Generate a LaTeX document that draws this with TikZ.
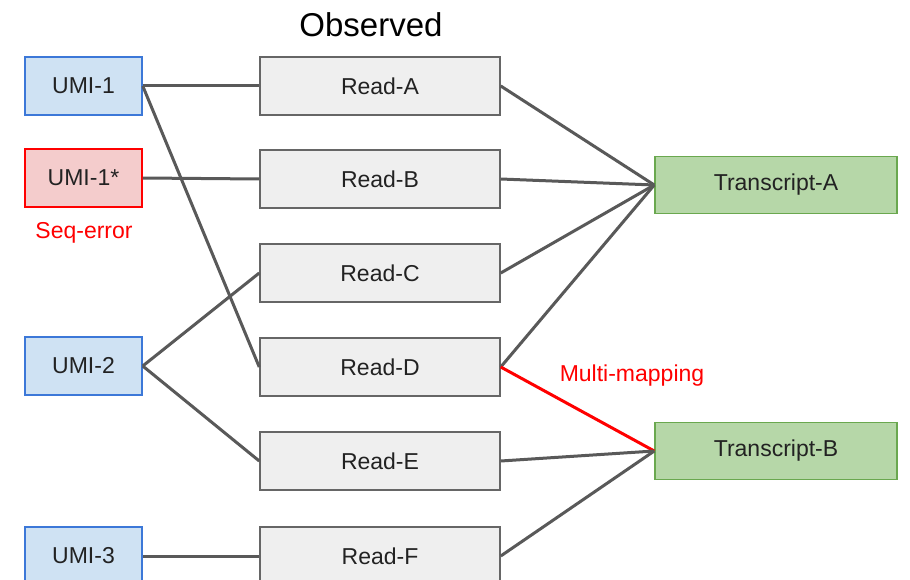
\documentclass[tikz,border=0pt]{standalone}
\usepackage{fontspec}
\setmainfont{Liberation Sans}
\definecolor{umifill}{HTML}{CFE2F3}
\definecolor{umiedge}{HTML}{3C78D8}
\definecolor{errfill}{HTML}{F4CCCC}
\definecolor{erredge}{HTML}{FF0000}
\definecolor{readfill}{HTML}{EFEFEF}
\definecolor{readedge}{HTML}{666666}
\definecolor{txfill}{HTML}{B6D7A8}
\definecolor{txedge}{HTML}{6AA84F}
\definecolor{wire}{HTML}{595959}
\definecolor{ink}{HTML}{222222}
\tikzset{
  box/.style={draw, line width=1.5pt, rectangle, inner sep=0pt, text=ink,
    font=\fontsize{23}{27}\selectfont},
  umibox/.style={box, fill=umifill, draw=umiedge, minimum width=117pt, minimum height=58pt},
  errbox/.style={box, fill=errfill, draw=erredge, minimum width=117pt, minimum height=58pt},
  readbox/.style={box, fill=readfill, draw=readedge, minimum width=240pt, minimum height=58pt},
  txbox/.style={box, fill=txfill, draw=txedge, minimum width=242pt, minimum height=57pt},
  wireline/.style={draw=wire, line width=3pt},
  mmline/.style={draw=red, line width=3pt},
  redlabel/.style={text=red, font=\fontsize{23}{27}\selectfont, inner sep=0pt},
}
\begin{document}
\begin{tikzpicture}[x=1pt, y=-1pt]
\useasboundingbox (0,0) rectangle (910,580);
\clip (0,0) rectangle (910,580);
\fill[white] (0,0) rectangle (910,580);

% title
\node[text=black, font=\fontsize{33}{38}\selectfont, inner sep=0pt] (title) at (371,25) {Observed};

% UMI column
\node[umibox] (u1) at (83.5,86) {UMI-1};
\node[errbox] (u1s) at (83.5,178) {UMI-1*};
\node[redlabel] (seq) at (84,233) {Seq-error};
\node[umibox] (u2) at (83.5,366) {UMI-2};
\node[umibox] (u3) at (83.5,556) {UMI-3};

% read column
\node[readbox] (ra) at (380,86) {Read-A};
\node[readbox] (rb) at (380,179) {Read-B};
\node[readbox] (rc) at (380,273) {Read-C};
\node[readbox] (rd) at (380,367) {Read-D};
\node[readbox] (re) at (380,461) {Read-E};
\node[readbox] (rf) at (380,556) {Read-F};

% transcripts
\node[txbox] (ta) at (776,185) {Transcript-A};
\node[txbox] (tb) at (776,451) {Transcript-B};

\node[redlabel] (mm) at (632,376) {Multi-mapping};

% UMI to read connectors
\draw[wireline] (u1.east) -- (ra.west);
\draw[wireline] (u1.east) -- (rd.west);
\draw[wireline] (u1s.east) -- (rb.west);
\draw[wireline] (u2.east) -- (rc.west);
\draw[wireline] (u2.east) -- (re.west);
\draw[wireline] (u3.east) -- (rf.west);

% read to transcript connectors
\draw[wireline] (ra.east) -- (ta.west);
\draw[wireline] (rb.east) -- (ta.west);
\draw[wireline] (rc.east) -- (ta.west);
\draw[wireline] (rd.east) -- (ta.west);
\draw[mmline] (rd.east) -- (tb.west);
\draw[wireline] (re.east) -- (tb.west);
\draw[wireline] (rf.east) -- (tb.west);
\end{tikzpicture}
\end{document}
